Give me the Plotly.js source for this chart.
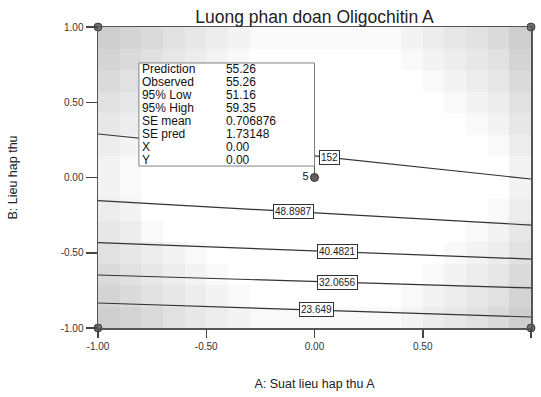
<!DOCTYPE html>
<html>
<head>
<meta charset="utf-8">
<script src="https://cdn.plot.ly/plotly-3.0.1.min.js"></script>
<style>html,body{margin:0;padding:0;background:#fff;}#chart{width:541px;height:397px;}</style>
</head>
<body>
<div id="chart"></div>
<script>
// ---- data ----
const titleText = 'Luong phan doan Oligochitin A';
const xTitle = 'A: Suat lieu hap thu A';
const yTitle = 'B: Lieu hap thu';
const tickVals = [-1, -0.5, 0, 0.5, 1];
const tickText = ['-1.00', '-0.50', '0.00', '0.50', '1.00'];

// contour lines (levels, and y of each line at x = -1, 0, 1)
const lineX = [-1, 0, 1];
const levels = [57.3152, 48.8987, 40.4821, 32.0656, 23.649];
const levelLabelText = ['152', '48.8987', '40.4821', '32.0656', '23.649'];
const levelLabelX = [0.067, -0.095, 0.104, 0.104, 0.007];
const lineY = [
  [0.289, 0.144, -0.010],
  [-0.154, -0.236, -0.316],
  [-0.433, -0.488, -0.542],
  [-0.648, -0.691, -0.734],
  [-0.834, -0.880, -0.927]
];

// design points
const designX = [-1, 1, -1, 1];
const designY = [1, 1, -1, -1];
const centerX = [0];
const centerY = [0];
const centerCount = ['5'];

// prediction popup
const popupLabels = ['Prediction', 'Observed', '95% Low', '95% High', 'SE mean', 'SE pred', 'X', 'Y'];
const popupValues = ['55.26', '55.26', '51.16', '59.35', '0.706876', '1.73148', '0.00', '0.00'];

// standard-error shading grid (top row first), 14 rows x 20 columns
const seShade = [
  [8,7,6,5,4,3,2,1,1,1,1,1,1,1,2,3,4,5,6,8],
  [7,6,5,4,3,2,1,0,0,0,0,0,0,0,1,2,3,4,5,7],
  [6,5,4,3,2,1,0,0,0,0,0,0,0,0,0,1,2,3,4,6],
  [5,4,3,2,1,0,0,0,0,0,0,0,0,0,0,0,1,2,3,5],
  [4,3,1,0,0,0,0,0,0,0,0,0,0,0,0,0,0,1,2,4],
  [3,2,0,0,0,0,0,0,0,0,0,0,0,0,0,0,0,0,1,3],
  [2,1,0,0,0,0,0,0,0,0,0,0,0,0,0,0,0,0,0,2],
  [2,1,0,0,0,0,0,0,0,0,0,0,0,0,0,0,0,0,0,2],
  [3,2,0,0,0,0,0,0,0,0,0,0,0,0,0,0,0,0,1,3],
  [4,3,1,0,0,0,0,0,0,0,0,0,0,0,0,0,0,1,2,4],
  [5,4,3,2,1,0,0,0,0,0,0,0,0,0,0,0,1,2,3,5],
  [6,5,4,3,2,1,0,0,0,0,0,0,0,0,0,1,2,3,4,6],
  [7,6,5,4,3,2,1,0,0,0,0,0,0,0,1,2,3,4,5,7],
  [8,7,6,5,4,3,2,1,1,1,1,1,1,1,2,3,4,5,6,8]
];

// ---- build chart ----
const FONT = 'Liberation Sans, Arial, sans-serif';
const nRows = seShade.length, nCols = seShade[0].length;
const traces = [];
traces.push({
  type: 'heatmap',
  z: seShade.slice().reverse(),
  x0: -1 + 1 / nCols, dx: 2 / nCols,
  y0: -1 + 1 / nRows, dy: 2 / nRows,
  zmin: 0, zmax: 10, zsmooth: false,
  colorscale: [[0, '#ffffff'], [1, '#c2c2c2']],
  showscale: false, hoverinfo: 'skip'
});
levels.forEach((lv, i) => {
  traces.push({
    type: 'scatter', mode: 'lines', x: lineX, y: lineY[i],
    line: {color: '#333333', width: 1.2}, name: String(lv), hoverinfo: 'skip'
  });
});
traces.push({
  type: 'scatter', mode: 'markers', x: designX, y: designY, cliponaxis: false,
  marker: {symbol: 'circle', size: 8, color: '#707070', line: {color: '#404040', width: 1}},
  hoverinfo: 'skip'
});
traces.push({
  type: 'scatter', mode: 'markers+text', x: centerX, y: centerY, text: centerCount,
  textposition: 'middle left', textfont: {family: FONT, size: 11, color: '#111'},
  cliponaxis: false,
  marker: {symbol: 'circle', size: 8, color: '#606060', line: {color: '#303030', width: 1}},
  hoverinfo: 'skip'
});

function interp(xs, ys, x) {
  for (let k = 0; k < xs.length - 1; k++) {
    if (x >= xs[k] && x <= xs[k + 1]) {
      const t = (x - xs[k]) / (xs[k + 1] - xs[k]);
      return ys[k] + t * (ys[k + 1] - ys[k]);
    }
  }
  return ys[ys.length - 1];
}

const annotations = [];
levelLabelText.forEach((t, i) => {
  annotations.push({
    x: levelLabelX[i], y: interp(lineX, lineY[i], levelLabelX[i]),
    xref: 'x', yref: 'y', text: t, showarrow: false,
    font: {family: FONT, size: 10, color: '#222'},
    bgcolor: '#ffffff', bordercolor: '#333', borderwidth: 1, borderpad: 1
  });
});

// popup box geometry (data units)
const box = {x0: -0.811, x1: 0, y0: 0.076, y1: 0.761};
const rowTop = 0.714, rowStep = 0.0864;
const colLabelX = -0.797, colValueX = -0.409;
traces.push({
  type: 'scatter', mode: 'lines', fill: 'toself', fillcolor: '#ffffff',
  x: [box.x0, box.x1, box.x1, box.x0, box.x0],
  y: [box.y0, box.y0, box.y1, box.y1, box.y0],
  line: {color: '#808080', width: 1}, hoverinfo: 'skip'
});
const shapes = [
  {type: 'line', xref: 'x', yref: 'y', x0: 0, x1: 0, y0: box.y0, y1: 0,
   line: {color: '#555', width: 1}}
];
const rowY = popupLabels.map((_, i) => rowTop - i * rowStep);
traces.push({
  type: 'scatter', mode: 'text', x: popupLabels.map(() => colLabelX), y: rowY,
  text: popupLabels, textposition: 'middle right', cliponaxis: false,
  textfont: {family: FONT, size: 12, color: '#111'}, hoverinfo: 'skip'
});
traces.push({
  type: 'scatter', mode: 'text', x: popupValues.map(() => colValueX), y: rowY,
  text: popupValues, textposition: 'middle right', cliponaxis: false,
  textfont: {family: FONT, size: 12, color: '#111'}, hoverinfo: 'skip'
});

const axisCommon = {
  range: [-1, 1], tickvals: tickVals, ticktext: tickText,
  ticks: 'outside', tickcolor: '#444', tickwidth: 1.5,
  showline: true, linecolor: '#555', linewidth: 1.5, mirror: true,
  showgrid: false, zeroline: false,
  tickfont: {family: FONT, size: 10, color: '#333'}
};

const layout = {
  width: 541, height: 397,
  margin: {l: 98, r: 10, t: 27, b: 69},
  paper_bgcolor: '#ffffff', plot_bgcolor: '#ffffff',
  showlegend: false,
  title: {text: titleText, font: {family: FONT, size: 17.5, color: '#222'},
          xref: 'paper', x: 0.5, xanchor: 'center', yref: 'container', y: 0.958, yanchor: 'middle'},
  xaxis: Object.assign({}, axisCommon, {ticklen: 8,
    title: {text: xTitle, font: {family: FONT, size: 12.5, color: '#222'}, standoff: 28}}),
  yaxis: Object.assign({}, axisCommon, {ticklen: 11,
    title: {text: yTitle, font: {family: FONT, size: 12.5, color: '#222'}, standoff: 40}}),
  shapes: shapes,
  annotations: annotations
};

Plotly.newPlot('chart', traces, layout, {displayModeBar: false, staticPlot: true});
</script>
</body>
</html>
